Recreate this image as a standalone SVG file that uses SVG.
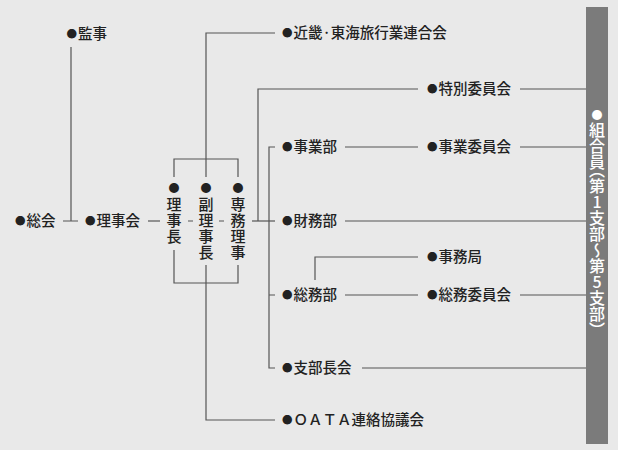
<svg xmlns="http://www.w3.org/2000/svg" width="618" height="450" viewBox="0 0 618 450">
<style>
  text { font-family: "Noto Sans CJK JP", "Noto Sans CJK SC", sans-serif; fill: #222; font-weight: 500; }
  .t { font-size: 14.5px; }
  .c { font-size: 15px; writing-mode: vertical-rl; text-orientation: upright; letter-spacing: 0.8px; }
  .b { font-size: 10.5px; }
  .cb { font-size: 11px; letter-spacing: 3.5px; }
  .bar { font-size: 16px; writing-mode: vertical-rl; text-orientation: upright; fill: #fff; }
  .bb { font-size: 11px; letter-spacing: 1px; }
  .h { font-feature-settings: "vhal" 1; }
  .ln { stroke: #555; stroke-width: 1.2; fill: none; }
</style>
<rect x="0" y="0" width="618" height="450" fill="#e9e9e9"/>
<rect id="bar" x="586" y="7" width="22" height="437" fill="#7b7b7b"/>

<g id="connectors" class="ln">
  <path d="M71 47 V221 M63 221 H78"/>
  <path d="M148 221 H160"/>
  <path d="M188 221 H193 M219 221 H224"/>
  <path d="M252 221 H275"/>
  <path d="M174 177 V159 H238 V177"/>
  <path d="M206 177 V33 H275"/>
  <path d="M174 250 V283 H238 V265"/>
  <path d="M206 265 V420 H275"/>
  <path d="M258 221 V89 H418"/>
  <path d="M520 89 H586"/>
  <path d="M275 147 H269 V368 H275 M269 295 H275"/>
  <path d="M345 147 H418 M520 147 H586"/>
  <path d="M345 221 H586"/>
  <path d="M315 280 V257 H418"/>
  <path d="M345 295 H418 M520 295 H586"/>
  <path d="M362 368 H586"/>
</g>

<g id="kanji">
  <text class="t" x="66.5" y="39.3"><tspan class="b" y="38">●</tspan><tspan y="39.3" dx="1">監事</tspan></text>
</g>
<g id="soukai">
  <text class="t" x="15" y="226.3"><tspan class="b" y="225">●</tspan><tspan y="226.3" dx="1">総会</tspan></text>
</g>
<g id="rijikai">
  <text class="t" x="85" y="226.3"><tspan class="b" y="225">●</tspan><tspan y="226.3" dx="1">理事会</tspan></text>
</g>
<g id="rijicho">
  <text class="c" x="174" y="182.5"><tspan class="cb">●</tspan>理事長</text>
</g>
<g id="fukurijicho">
  <text class="c" x="206" y="182.5"><tspan class="cb">●</tspan>副理事長</text>
</g>
<g id="senmuriji">
  <text class="c" x="238" y="182.5"><tspan class="cb">●</tspan>専務理事</text>
</g>
<g id="kinki">
  <text class="t" x="282" y="38.3"><tspan class="b" y="37">●</tspan><tspan y="38.3" dx="1">近畿·東海旅行業連合会</tspan></text>
</g>
<g id="tokubetsu">
  <text class="t" x="427" y="94.3"><tspan class="b" y="93">●</tspan><tspan y="94.3" dx="1">特別委員会</tspan></text>
</g>
<g id="jigyobu">
  <text class="t" x="282" y="152.3"><tspan class="b" y="151">●</tspan><tspan y="152.3" dx="1">事業部</tspan></text>
</g>
<g id="jigyoiinkai">
  <text class="t" x="427" y="152.3"><tspan class="b" y="151">●</tspan><tspan y="152.3" dx="1">事業委員会</tspan></text>
</g>
<g id="zaimubu">
  <text class="t" x="282" y="226.3"><tspan class="b" y="225">●</tspan><tspan y="226.3" dx="1">財務部</tspan></text>
</g>
<g id="jimukyoku">
  <text class="t" x="427" y="262.3"><tspan class="b" y="261">●</tspan><tspan y="262.3" dx="1">事務局</tspan></text>
</g>
<g id="somubu">
  <text class="t" x="282" y="300.3"><tspan class="b" y="299">●</tspan><tspan y="300.3" dx="1">総務部</tspan></text>
</g>
<g id="somuiinkai">
  <text class="t" x="427" y="300.3"><tspan class="b" y="299">●</tspan><tspan y="300.3" dx="1">総務委員会</tspan></text>
</g>
<g id="shibuchokai">
  <text class="t" x="282" y="373.3"><tspan class="b" y="372">●</tspan><tspan y="373.3" dx="1">支部長会</tspan></text>
</g>
<g id="oata">
  <text class="t" x="282" y="425.3"><tspan class="b" y="424">●</tspan><tspan y="425.3" dx="1">ＯＡＴＡ連絡協議会</tspan></text>
</g>
<g id="kumiaiin">
  <text class="bar" x="597" y="109.5"><tspan class="bb">●</tspan>組合員<tspan class="h">（</tspan>第1支部～第5支部<tspan class="h">）</tspan></text>
</g>
</svg>
